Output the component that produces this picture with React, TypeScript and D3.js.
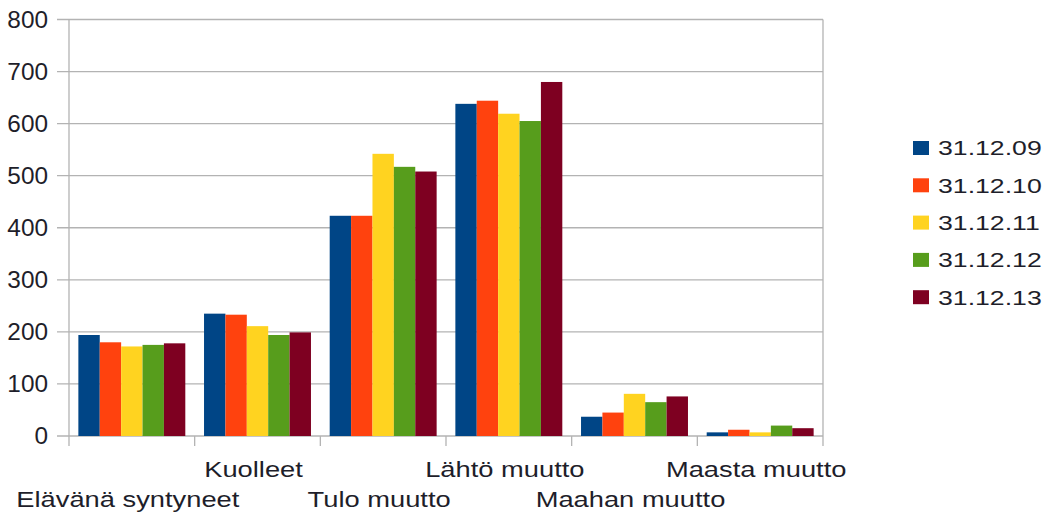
import React, { useRef, useEffect } from "react";
import * as d3 from "d3";

const categories = [
  "Elävänä syntyneet",
  "Kuolleet",
  "Tulo muutto",
  "Lähtö muutto",
  "Maahan muutto",
  "Maasta muutto",
];
const seriesNames = ["31.12.09", "31.12.10", "31.12.11", "31.12.12", "31.12.13"];
const seriesColors = ["#004586", "#ff420e", "#ffd320", "#579d1c", "#7e0021"];

// values per series, one per category
const s09 = [194, 235, 423, 638, 37, 7];
const s10 = [180, 233, 423, 644, 45, 12];
const s11 = [172, 211, 542, 619, 81, 7];
const s12 = [175, 194, 517, 605, 65, 20];
const s13 = [178, 199, 508, 680, 76, 15];
const seriesValues = [s09, s10, s11, s12, s13];

const yTicks = [0, 100, 200, 300, 400, 500, 600, 700, 800];

const App: React.FC = () => {
  const ref = useRef<SVGSVGElement>(null);
  const width = 1054;
  const height = 513;
  const margin = { top: 19.5, left: 69, right: 231, bottom: 77 };

  useEffect(() => {
    const svg = d3.select(ref.current);
    svg.selectAll("*").remove();

    const x0 = margin.left;
    const x1 = width - margin.right;
    const yTop = margin.top;
    const yBot = height - margin.bottom;

    const xScale = d3
      .scaleBand<string>()
      .domain(categories)
      .range([x0, x1])
      .paddingInner(0.149)
      .paddingOuter(0.0745);
    const xInner = d3
      .scaleBand<string>()
      .domain(seriesNames)
      .range([0, xScale.bandwidth()]);
    const yScale = d3.scaleLinear().domain([0, 800]).range([yBot, yTop]);

    const step = (x1 - x0) / categories.length;
    const textColor = "#1e1e2a";
    const lineColor = "#b3b3b3";

    // gridlines + left tick stubs
    svg
      .append("g")
      .selectAll("line")
      .data(yTicks)
      .join("line")
      .attr("x1", x0 - 12)
      .attr("x2", x1)
      .attr("y1", (d) => yScale(d))
      .attr("y2", (d) => yScale(d))
      .attr("stroke", lineColor)
      .attr("stroke-width", 1.3);

    // bars
    const groups = svg
      .append("g")
      .selectAll("g")
      .data(categories)
      .join("g")
      .attr("transform", (d) => `translate(${xScale(d)},0)`);

    groups
      .selectAll("rect")
      .data((_, ci) =>
        seriesNames.map((name, si) => ({ name, si, v: seriesValues[si][ci] }))
      )
      .join("rect")
      .attr("x", (d) => xInner(d.name) || 0)
      .attr("width", xInner.bandwidth())
      .attr("y", (d) => yScale(d.v))
      .attr("height", (d) => yBot - yScale(d.v))
      .attr("fill", (d) => seriesColors[d.si]);

    // axis frame lines and category ticks
    const frame = svg.append("g").attr("stroke", lineColor).attr("stroke-width", 1.3);
    frame.append("line").attr("x1", x0).attr("x2", x0).attr("y1", yTop).attr("y2", yBot + 10);
    frame.append("line").attr("x1", x1).attr("x2", x1).attr("y1", yTop).attr("y2", yBot + 10);
    frame
      .selectAll("line.tick")
      .data(d3.range(1, categories.length))
      .join("line")
      .attr("class", "tick")
      .attr("x1", (i) => x0 + i * step)
      .attr("x2", (i) => x0 + i * step)
      .attr("y1", yBot)
      .attr("y2", yBot + 10);

    // y labels
    svg
      .append("g")
      .selectAll("text")
      .data(yTicks)
      .join("text")
      .attr("transform", (d) => `translate(48,${yScale(d)}) scale(1.06,1)`)
      .attr("text-anchor", "end")
      .attr("dy", "0.36em")
      .attr("font-family", "Liberation Sans, Arial, sans-serif")
      .attr("font-size", 23)
      .attr("fill", textColor)
      .text((d) => d);

    // x labels, staggered
    svg
      .append("g")
      .selectAll("text")
      .data(categories)
      .join("text")
      .attr(
        "transform",
        (d, i) =>
          `translate(${(xScale(d) || 0) + xScale.bandwidth() / 2 - 4},${i % 2 === 0 ? 507 : 477}) scale(1.27,1)`
      )
      .attr("text-anchor", "middle")
      .attr("font-family", "Liberation Sans, Arial, sans-serif")
      .attr("font-size", 21.5)
      .attr("fill", textColor)
      .text((d) => d);

    // legend
    const legend = svg
      .append("g")
      .selectAll("g")
      .data(seriesNames)
      .join("g")
      .attr("transform", (_, i) => `translate(913,${148 + i * 37.3})`);
    legend
      .append("rect")
      .attr("x", 0)
      .attr("y", -7)
      .attr("width", 16)
      .attr("height", 14)
      .attr("fill", (_, i) => seriesColors[i]);
    legend
      .append("text")
      .attr("transform", "translate(25,0) scale(1.3,1)")
      .attr("dy", "0.36em")
      .attr("font-family", "Liberation Sans, Arial, sans-serif")
      .attr("font-size", 20.5)
      .attr("fill", textColor)
      .text((d) => d);
  });

  return (
    <svg
      ref={ref}
      width={width}
      height={height}
      style={{ position: "absolute", left: 0, top: 0, background: "#fff" }}
    ></svg>
  );
};

export default App;
